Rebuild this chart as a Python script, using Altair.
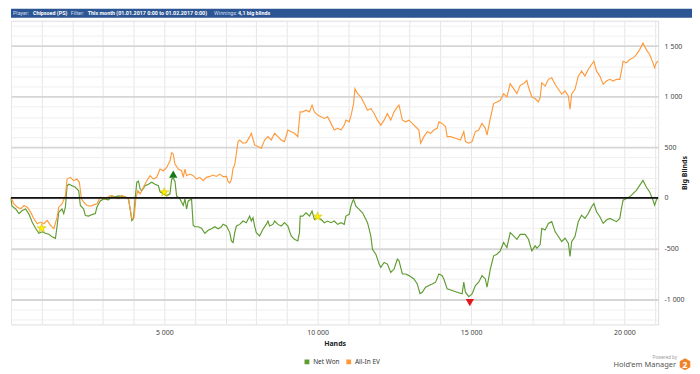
import altair as alt
import pandas as pd

# ---------------- data ----------------
net_won_points = [
    (0, 0), (30, -80), (152, -110), (260, -155), (368, -125), (476, -110), (585, -160), (693, -240),
    (800, -300), (909, -350), (1017, -335), (1125, -350), (1234, -360), (1342, -385), (1450, -400),
    (1504, -275), (1558, -140), (1666, -110), (1720, -155), (1775, -90), (1829, 120), (1883, 135),
    (1991, 120), (2100, 105), (2208, 70), (2262, -75), (2370, -110), (2424, -175), (2533, -180),
    (2641, -165), (2749, -155), (2803, -90), (2911, -30), (3020, -10), (3182, -20), (3290, 20),
    (3398, 10), (3506, 20), (3615, 15), (3723, 10), (3831, -10), (3885, -110), (3940, -225),
    (3994, -205), (4048, -10), (4102, 155), (4156, 165), (4210, 90), (4264, 70), (4373, 120),
    (4481, 135), (4589, 155), (4697, 135), (4806, 120), (4860, 60), (4968, 40), (5076, 20),
    (5184, 40), (5238, 185), (5290, 195), (5346, 165), (5400, 20), (5509, -10), (5617, -75),
    (5671, -10), (5725, -110), (5779, -30), (5887, -10), (5941, -270), (5995, -285), (6104, -285),
    (6212, -300), (6320, -350), (6428, -320), (6537, -305), (6645, -285), (6753, -305), (6861, -285),
    (6916, -260), (7024, -278), (7133, -343), (7187, -425), (7241, -441), (7295, -343), (7349, -278),
    (7457, -262), (7566, -229), (7674, -245), (7782, -180), (7836, -229), (7890, -196), (7944, -278),
    (7998, -343), (8107, -376), (8215, -310), (8323, -262), (8377, -229), (8431, -278), (8540, -262),
    (8594, -229), (8702, -262), (8810, -278), (8918, -245), (9027, -278), (9135, -376), (9243, -409),
    (9351, -425), (9405, -343), (9430, -180), (9513, -180), (9621, -147), (9730, -180), (9816, -131),
    (9892, -212), (10000, -196), (10108, -212), (10217, -245), (10325, -229), (10433, -245),
    (10541, -229), (10650, -262), (10758, -245), (10866, -262), (10920, -180), (11028, -163),
    (11083, -82), (11137, -33), (11170, -16), (11245, -82), (11353, -114), (11462, -147),
    (11516, -180), (11624, -245), (11732, -376), (11786, -507), (11895, -556), (12003, -654),
    (12057, -687), (12165, -638), (12273, -654), (12382, -736), (12490, -703), (12598, -605),
    (12652, -621), (12760, -752), (12869, -752), (12977, -768), (13139, -801), (13247, -850),
    (13334, -945), (13409, -932), (13517, -883), (13626, -866), (13735, -850), (13843, -833),
    (13951, -752), (14059, -768), (14113, -801), (14222, -899), (14384, -915), (14546, -932),
    (14709, -948), (14763, -833), (14817, -932), (14925, -975), (15033, -948), (15141, -866),
    (15249, -833), (15357, -768), (15466, -801), (15520, -883), (15628, -703), (15736, -572),
    (15844, -556), (15953, -523), (16061, -441), (16169, -490), (16277, -343), (16386, -376),
    (16494, -409), (16602, -360), (16764, -360), (16872, -409), (16981, -523), (17089, -474),
    (17144, -497), (17252, -464), (17306, -301), (17414, -317), (17522, -252), (17631, -235),
    (17739, -333), (17847, -382), (17955, -432), (18063, -399), (18172, -448), (18226, -579),
    (18280, -432), (18388, -382), (18496, -235), (18604, -170), (18713, -203), (18821, -154),
    (18929, -88), (19005, -56), (19091, -137), (19200, -186), (19308, -252), (19416, -219),
    (19524, -203), (19633, -219), (19741, -235), (19849, -203), (19903, -105), (19957, -23),
    (20065, -7), (20174, 10), (20282, 42), (20390, 75), (20498, 124), (20606, 173), (20714, 108),
    (20823, 59), (20931, -23), (20985, -72), (21039, -23), (21093, 4),
]

all_in_ev_points = [
    (0, 0), (97, -59), (206, -92), (314, -108), (422, -75), (531, -92), (639, -141), (747, -206),
    (855, -255), (963, -239), (1072, -255), (1180, -222), (1288, -271), (1396, -304), (1505, -190),
    (1558, -92), (1666, -59), (1775, 23), (1829, 186), (1937, 203), (2045, 170), (2154, 186),
    (2230, 154), (2295, -10), (2370, -42), (2478, -75), (2587, -82), (2695, -69), (2803, -59),
    (2911, 7), (3074, -10), (3236, 23), (3398, 7), (3507, -10), (3615, 23), (3723, 7), (3831, -10),
    (3885, -108), (3940, -206), (4015, -190), (4070, -10), (4134, 72), (4210, 39), (4318, 105),
    (4427, 170), (4535, 219), (4643, 186), (4751, 203), (4860, 284), (4968, 268), (5076, 301),
    (5184, 366), (5238, 448), (5292, 432), (5346, 334), (5455, 284), (5563, 268), (5617, 203),
    (5671, 284), (5725, 219), (5833, 235), (5941, 219), (6050, 186), (6158, 203), (6266, 170),
    (6374, 203), (6482, 212), (6591, 226), (6699, 212), (6807, 235), (6916, 210), (7024, 212),
    (7078, 163), (7133, 147), (7187, 180), (7241, 294), (7295, 327), (7349, 441), (7403, 556),
    (7457, 572), (7566, 540), (7674, 546), (7782, 605), (7836, 638), (7944, 523), (8052, 507),
    (8161, 490), (8269, 572), (8377, 605), (8486, 572), (8594, 638), (8702, 605), (8810, 572),
    (8918, 556), (9027, 670), (9135, 654), (9243, 638), (9351, 605), (9427, 850), (9513, 850),
    (9621, 866), (9730, 850), (9816, 916), (9892, 850), (10000, 818), (10108, 801), (10217, 785),
    (10325, 801), (10433, 736), (10541, 670), (10650, 687), (10758, 670), (10866, 719), (10920, 768),
    (11028, 752), (11104, 834), (11170, 932), (11213, 1079), (11299, 1030), (11407, 997),
    (11516, 932), (11624, 866), (11732, 883), (11840, 834), (11948, 768), (12057, 719), (12165, 768),
    (12273, 834), (12382, 768), (12490, 850), (12598, 899), (12652, 916), (12760, 768), (12869, 752),
    (12977, 768), (13085, 736), (13193, 703), (13301, 670), (13355, 540), (13463, 605), (13571, 654),
    (13680, 638), (13788, 670), (13896, 687), (13951, 752), (14059, 736), (14167, 703), (14222, 605),
    (14330, 605), (14492, 589), (14654, 572), (14763, 654), (14817, 556), (14925, 540), (15033, 556),
    (15141, 654), (15249, 670), (15357, 736), (15466, 687), (15520, 621), (15628, 785), (15736, 932),
    (15844, 948), (15953, 964), (16061, 1030), (16169, 997), (16277, 1128), (16386, 1079),
    (16494, 1030), (16602, 1112), (16710, 1128), (16818, 1161), (16872, 1095), (16981, 997),
    (17089, 981), (17197, 948), (17252, 991), (17306, 1138), (17414, 1105), (17522, 1171),
    (17631, 1187), (17739, 1122), (17847, 1073), (17955, 1024), (18063, 1056), (18172, 1007),
    (18226, 876), (18280, 1024), (18388, 1073), (18496, 1203), (18604, 1252), (18713, 1203),
    (18821, 1269), (18929, 1318), (19005, 1350), (19091, 1252), (19200, 1203), (19308, 1122),
    (19416, 1154), (19524, 1171), (19633, 1154), (19741, 1171), (19849, 1171), (19903, 1252),
    (19957, 1350), (20065, 1334), (20174, 1367), (20282, 1383), (20390, 1416), (20498, 1465),
    (20606, 1530), (20714, 1465), (20823, 1416), (20931, 1334), (20985, 1285), (21039, 1334),
    (21093, 1350),
]

series_names = ["Net Won", "All-In EV"]
series_colors = ["#5e9b30", "#ff9a3c"]

star_hands = [1000, 5000, 10000]
star_values = [-300, 55, -185]
max_hand = [5290]
max_value = [235]
min_hand = [14960]
min_value = [-1035]

x_label_values = [5000, 10000, 15000, 20000]
y_label_values = [-1000, -500, 0, 500, 1000, 1500]

header_labels = ["Player:", "Chipsoed (PS)", "Filter:",
                 "This month (01.01.2017 0:00 to 01.02.2017 0:00)", "Winnings:", "4,1 big blinds"]
header_bold = [False, True, False, True, False, True]
header_x = [-4, 16, 54, 71, 198, 222]

# ---------------- build tables ----------------
rows = []
for name, pts in zip(series_names, [net_won_points, all_in_ev_points]):
    for h, v in pts:
        rows.append({"hands": h, "bb": v, "series": name})
df = pd.DataFrame(rows)

stars_df = pd.DataFrame({"hands": star_hands, "bb": star_values})
max_df = pd.DataFrame({"hands": max_hand, "bb": max_value})
min_df = pd.DataFrame({"hands": min_hand, "bb": min_value})
zero_df = pd.DataFrame({"bb": [0]})
one = pd.DataFrame({"k": [0]})

FONT = "Noto Sans"
W, H = 650, 305

x_scale = alt.Scale(domain=[0, 21100], nice=False, zero=False)
y_scale = alt.Scale(domain=[-1250, 1750], nice=False, zero=False)

x_axis = alt.Axis(
    values=list(range(0, 21001, 1000)), tickCount=200,
    labelExpr="indexof(" + str(x_label_values) + ", datum.value) >= 0 ? replace(format(datum.value, ','), ',', ' ') : ''",
    grid=True, gridColor="#e6e6e6", gridWidth=1,
    ticks=False, domain=False, labelOverlap=False, labelFlush=False,
    labelFont=FONT, labelFontSize=7, labelColor="#444444", labelPadding=4,
    title="Hands", titleFont=FONT, titleFontSize=7, titleFontWeight="bold",
    titleColor="#222222", titlePadding=4,
)

y_axis = alt.Axis(
    orient="right",
    values=list(range(-1200, 1701, 100)), tickCount=200,
    labelExpr="indexof(" + str(y_label_values) + ", datum.value) >= 0 ? (datum.value < 0 ? '-' : '') + replace(format(abs(datum.value), ','), ',', ' ') : ''",
    grid=True,
    gridColor={"condition": {"test": "datum.value % 500 === 0", "value": "#d6d6d6"}, "value": "#efefef"},
    gridWidth={"condition": {"test": "datum.value % 500 === 0", "value": 1.8}, "value": 1},
    ticks=False, domain=False, labelOverlap=False, labelFlush=False,
    labelFont=FONT, labelFontSize=7, labelColor="#444444", labelPadding=6, labelAlign="left",
    title="Big Blinds", titleFont=FONT, titleFontSize=7, titleFontWeight="bold",
    titleColor="#222222", titleAngle=270, titlePadding=3,
)

lines = alt.Chart(df).mark_line(strokeWidth=1.15).encode(
    x=alt.X("hands:Q", scale=x_scale, axis=x_axis),
    y=alt.Y("bb:Q", scale=y_scale, axis=y_axis),
    color=alt.Color(
        "series:N",
        scale=alt.Scale(domain=series_names, range=series_colors),
        legend=alt.Legend(
            orient="none", legendX=294, legendY=339, direction="horizontal", title=None,
            symbolType="square", symbolSize=6, symbolStrokeWidth=2.4,
            labelFont=FONT, labelFontSize=6.5, labelColor="#333333",
            columnPadding=2, symbolOffset=0, labelOffset=3,
        ),
    ),
)

zero_rule = alt.Chart(zero_df).mark_rule(color="#111111", strokeWidth=1.8).encode(
    y=alt.Y("bb:Q", scale=y_scale)
)

star_path = ("M0,-1L0.2245,-0.309L0.951,-0.309L0.363,0.118L0.588,0.809L0,0.382"
             "L-0.588,0.809L-0.363,0.118L-0.951,-0.309L-0.2245,-0.309Z")
stars = alt.Chart(stars_df).mark_point(
    shape=star_path, filled=True, fill="#ffee00", stroke="#c9b800", strokeWidth=0.5,
    size=90, opacity=1,
).encode(x=alt.X("hands:Q", scale=x_scale), y=alt.Y("bb:Q", scale=y_scale))

max_mark = alt.Chart(max_df).mark_point(
    shape="triangle-up", filled=True, color="#177a17", size=70, opacity=1
).encode(x=alt.X("hands:Q", scale=x_scale), y=alt.Y("bb:Q", scale=y_scale))

min_mark = alt.Chart(min_df).mark_point(
    shape="triangle-down", filled=True, color="#e3161e", size=70, opacity=1
).encode(x=alt.X("hands:Q", scale=x_scale), y=alt.Y("bb:Q", scale=y_scale))

# header bar (coordinates relative to the plot's top-left corner)
header_bar = alt.Chart(one).mark_rect(color="#2b5593").encode(
    x=alt.value(0), x2=alt.value(684), y=alt.value(-12), y2=alt.value(-3)
)
header_texts = []
for lab, bold, hx in zip(header_labels, header_bold, header_x):
    header_texts.append(
        alt.Chart(one).mark_text(
            align="left", baseline="middle", font="Roboto", fontSize=5.4,
            fontWeight="bold" if bold else "normal",
            color="#ffffff" if bold else "#cfdcee",
        ).encode(x=alt.value(hx + 6), y=alt.value(-7.3), text=alt.value(lab))
    )

# "Powered by Hold'em Manager" logo
hex_path = "M0,-1L0.866,-0.5L0.866,0.5L0,1L-0.866,0.5L-0.866,-0.5Z"
powered = alt.Chart(one).mark_text(
    align="right", baseline="middle", font=FONT, fontSize=4.5, color="#9a9a9a"
).encode(x=alt.value(669), y=alt.value(339), text=alt.value("Powered by"))
hm_text = alt.Chart(one).mark_text(
    align="right", baseline="middle", font=FONT, fontSize=7.5, color="#555555"
).encode(x=alt.value(668), y=alt.value(346), text=alt.value("Hold'em Manager"))
hex_mark = alt.Chart(one).mark_point(
    shape=hex_path, filled=True, color="#f0822a", size=150, opacity=1
).encode(x=alt.value(677), y=alt.value(345))
hex_two = alt.Chart(one).mark_text(
    align="center", baseline="middle", font=FONT, fontSize=8.5, fontWeight="bold", color="#ffffff"
).encode(x=alt.value(677), y=alt.value(345.5), text=alt.value("2"))

chart = alt.layer(
    lines, zero_rule, stars, max_mark, min_mark,
    header_bar, *header_texts, powered, hm_text, hex_mark, hex_two,
).properties(
    width=W, height=H, padding=0, background="#ffffff"
).configure_view(
    stroke="#dddddd", strokeWidth=1
)

chart.save("out.html", embed_options={"renderer": "svg", "actions": False})
